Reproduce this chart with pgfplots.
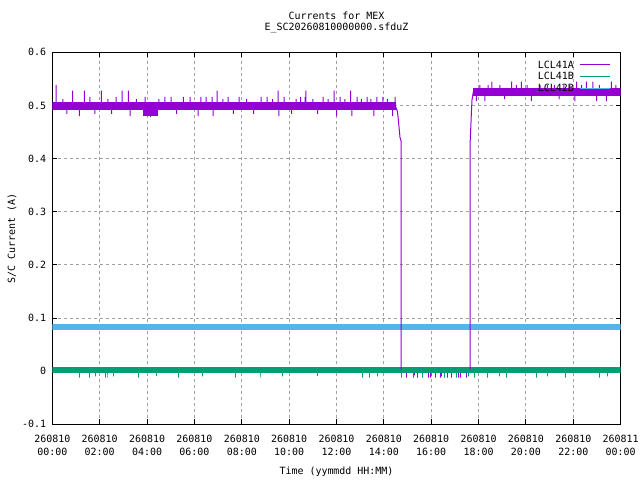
\documentclass[border=0pt]{standalone}
\usepackage{pgfplots}
\pgfplotsset{compat=1.18}
\usepackage{fontspec}
\setmainfont{DejaVu Sans Mono}
\definecolor{lclA}{HTML}{9400D3}
\definecolor{lclB}{HTML}{009E73}
\definecolor{lclC}{HTML}{56B4E9}
\definecolor{gridc}{HTML}{A0A0A0}
\begin{document}
\begin{tikzpicture}
\path[use as bounding box] (-52.3bp,-55.7bp) rectangle (587.7bp,424.3bp);
\begin{axis}[
  at={(0,0)}, anchor=south west,
  scale only axis, width=568.4bp, height=372bp,
  xmin=0, xmax=24, ymin=-0.1, ymax=0.6,
  axis line style={black, line width=1bp},
  tick align=inside, major tick length=5bp,
  tick style={black, line width=1bp},
  xtick={0,2,4,6,8,10,12,14,16,18,20,22,24},
  xticklabels={{260810\\00:00},{260810\\02:00},{260810\\04:00},{260810\\06:00},{260810\\08:00},{260810\\10:00},{260810\\12:00},{260810\\14:00},{260810\\16:00},{260810\\18:00},{260810\\20:00},{260810\\22:00},{260811\\00:00}},
  ytick={-0.1,0,0.1,0.2,0.3,0.4,0.5,0.6},
  yticklabels={-0.1,0,0.1,0.2,0.3,0.4,0.5,0.6},
  x tick label style={font=\fontsize{10}{13.5}\selectfont, align=center, inner sep=0pt, anchor=north, yshift=-10.5bp},
  y tick label style={font=\fontsize{10}{12}\selectfont, inner sep=0pt, anchor=east, xshift=-6bp},
  grid=major,
  major grid style={gridc, line width=1bp, dash pattern=on 3bp off 3bp},
  title={Currents for MEX\\E\_SC20260810000000.sfduZ},
  title style={at={(axis description cs:0.5,1)}, anchor=south, align=center, inner sep=0pt, yshift=13bp, font=\fontsize{10}{11.7}\selectfont},
  xlabel={Time (yymmdd HH:MM)},
  xlabel style={at={(axis description cs:0.5,0)}, anchor=center, yshift=-47.4bp, inner sep=0pt, font=\fontsize{10}{12}\selectfont},
  ylabel={S/C Current (A)},
  ylabel style={at={(axis description cs:-0.0709,0.5)}, anchor=center, inner sep=0pt, font=\fontsize{10}{12}\selectfont},
]

% LCL41A during outage (drawn under the other series)
\addplot[lclA, line width=1bp, forget plot] coordinates {
(14.73,0.003) (14.96,0.003) (14.96,-0.012) (14.96,0.003)
(15.25,0.003) (15.25,-0.012) (15.25,0.003)
(15.30,0.003) (15.30,-0.008) (15.30,0.003)
(15.44,0.003) (15.44,-0.012) (15.44,0.003)
(15.90,0.003) (15.90,-0.012) (15.90,0.003)
(15.95,0.003) (15.95,-0.012) (15.95,0.003)
(16.20,0.003) (16.20,-0.012) (16.20,0.003)
(16.39,0.003) (16.39,-0.012) (16.39,0.003)
(16.44,0.003) (16.44,-0.010) (16.44,0.003)
(16.70,0.003) (16.70,-0.012) (16.70,0.003)
(16.86,0.003) (16.86,-0.012) (16.86,0.003)
(17.17,0.003) (17.17,-0.012) (17.17,0.003)
(17.22,0.003) (17.22,-0.012) (17.22,0.003)
(17.49,0.003) (17.49,-0.012) (17.49,0.003)
(17.64,0.003)
};

% LCL41B band and dips
\addplot[lclB, line width=6bp, forget plot] coordinates {(0,0.003) (24,0.003)};
\addplot[lclB, line width=1bp, forget plot] coordinates {
(0.5,0.003)
(1.14,0.003) (1.14,-0.012) (1.14,0.003)
(1.56,0.003) (1.56,-0.012) (1.56,0.003)
(1.81,0.003) (1.81,-0.010) (1.81,0.003)
(2.24,0.003) (2.24,-0.012) (2.24,0.003)
(2.31,0.003) (2.31,-0.012) (2.31,0.003)
(2.57,0.003) (2.57,-0.010) (2.57,0.003)
(3.63,0.003) (3.63,-0.012) (3.63,0.003)
(4.40,0.003) (4.40,-0.009) (4.40,0.003)
(5.31,0.003) (5.31,-0.012) (5.31,0.003)
(6.33,0.003) (6.33,-0.010) (6.33,0.003)
(7.72,0.003) (7.72,-0.012) (7.72,0.003)
(8.77,0.003) (8.77,-0.012) (8.77,0.003)
(9.74,0.003) (9.74,-0.010) (9.74,0.003)
(11.20,0.003) (11.20,-0.009) (11.20,0.003)
(13.08,0.003) (13.08,-0.012) (13.08,0.003)
(13.41,0.003) (13.41,-0.012) (13.41,0.003)
(13.75,0.003) (13.75,-0.010) (13.75,0.003)
(14.75,0.003) (14.75,-0.012) (14.75,0.003)
(15.23,0.003) (15.23,-0.012) (15.23,0.003)
(15.65,0.003) (15.65,-0.012) (15.65,0.003)
(16.03,0.003) (16.03,-0.010) (16.03,0.003)
(16.58,0.003) (16.58,-0.012) (16.58,0.003)
(17.08,0.003) (17.08,-0.012) (17.08,0.003)
(17.56,0.003) (17.56,-0.010) (17.56,0.003)
(17.84,0.003) (17.84,-0.012) (17.84,0.003)
(18.39,0.003) (18.39,-0.012) (18.39,0.003)
(18.89,0.003) (18.89,-0.010) (18.89,0.003)
(19.18,0.003) (19.18,-0.012) (19.18,0.003)
(20.46,0.003) (20.46,-0.012) (20.46,0.003)
(20.92,0.003) (20.92,-0.010) (20.92,0.003)
(21.68,0.003) (21.68,-0.012) (21.68,0.003)
(23.12,0.003) (23.12,-0.012) (23.12,0.003)
(23.45,0.003) (23.45,-0.010) (23.45,0.003)
(23.8,0.003)
};

% LCL42B band
\addplot[lclC, line width=6bp, forget plot] coordinates {(0,0.083) (24,0.083)};

% LCL41A main band before outage
\addplot[lclA, line width=8bp, forget plot] coordinates {
(0,0.4985) (3.98,0.4985) (3.98,0.487) (4.30,0.487) (4.30,0.4985) (14.50,0.4985)
};
% LCL41A spikes before outage
\addplot[lclA, line width=1bp, forget plot] coordinates {
(0.05,0.498)
(0.16,0.498) (0.16,0.538) (0.16,0.498)
(0.45,0.498) (0.45,0.512) (0.45,0.498)
(0.62,0.498) (0.62,0.484) (0.62,0.498)
(0.86,0.498) (0.86,0.528) (0.86,0.498)
(1.14,0.498) (1.14,0.480) (1.14,0.498)
(1.35,0.498) (1.35,0.528) (1.35,0.498)
(1.59,0.498) (1.59,0.516) (1.59,0.498)
(1.80,0.498) (1.80,0.484) (1.80,0.498)
(2.07,0.498) (2.07,0.528) (2.07,0.498)
(2.35,0.498) (2.35,0.512) (2.35,0.498)
(2.50,0.498) (2.50,0.484) (2.50,0.498)
(2.70,0.498) (2.70,0.516) (2.70,0.498)
(2.95,0.498) (2.95,0.528) (2.95,0.498)
(3.21,0.498) (3.21,0.528) (3.21,0.498)
(3.29,0.498) (3.29,0.480) (3.29,0.498)
(3.55,0.498) (3.55,0.512) (3.55,0.498)
(3.92,0.498) (3.92,0.516) (3.92,0.498)
(4.15,0.498) (4.15,0.478) (4.15,0.498)
(4.50,0.498) (4.50,0.512) (4.50,0.498)
(4.75,0.498) (4.75,0.516) (4.75,0.498)
(5.02,0.498) (5.02,0.516) (5.02,0.498)
(5.25,0.498) (5.25,0.484) (5.25,0.498)
(5.53,0.498) (5.53,0.516) (5.53,0.498)
(5.82,0.498) (5.82,0.516) (5.82,0.498)
(6.16,0.498) (6.16,0.480) (6.16,0.498)
(6.27,0.498) (6.27,0.516) (6.27,0.498)
(6.50,0.498) (6.50,0.516) (6.50,0.498)
(6.75,0.498) (6.75,0.516) (6.75,0.498)
(6.79,0.498) (6.79,0.480) (6.79,0.498)
(6.96,0.498) (6.96,0.528) (6.96,0.498)
(7.20,0.498) (7.20,0.512) (7.20,0.498)
(7.42,0.498) (7.42,0.516) (7.42,0.498)
(7.65,0.498) (7.65,0.484) (7.65,0.498)
(7.89,0.498) (7.89,0.516) (7.89,0.498)
(8.20,0.498) (8.20,0.512) (8.20,0.498)
(8.50,0.498) (8.50,0.484) (8.50,0.498)
(8.82,0.498) (8.82,0.516) (8.82,0.498)
(9.07,0.498) (9.07,0.516) (9.07,0.498)
(9.30,0.498) (9.30,0.512) (9.30,0.498)
(9.53,0.498) (9.53,0.528) (9.53,0.498)
(9.57,0.498) (9.57,0.480) (9.57,0.498)
(9.79,0.498) (9.79,0.516) (9.79,0.498)
(10.10,0.498) (10.10,0.484) (10.10,0.498)
(10.30,0.498) (10.30,0.512) (10.30,0.498)
(10.49,0.498) (10.49,0.516) (10.49,0.498)
(10.67,0.498) (10.67,0.516) (10.67,0.498)
(10.71,0.498) (10.71,0.528) (10.71,0.498)
(11.00,0.498) (11.00,0.512) (11.00,0.498)
(11.20,0.498) (11.20,0.484) (11.20,0.498)
(11.43,0.498) (11.43,0.516) (11.43,0.498)
(11.65,0.498) (11.65,0.512) (11.65,0.498)
(11.90,0.498) (11.90,0.528) (11.90,0.498)
(12.01,0.498) (12.01,0.480) (12.01,0.498)
(12.15,0.498) (12.15,0.516) (12.15,0.498)
(12.35,0.498) (12.35,0.512) (12.35,0.498)
(12.60,0.498) (12.60,0.528) (12.60,0.498)
(12.65,0.498) (12.65,0.480) (12.65,0.498)
(12.87,0.498) (12.87,0.516) (12.87,0.498)
(13.05,0.498) (13.05,0.512) (13.05,0.498)
(13.29,0.498) (13.29,0.516) (13.29,0.498)
(13.45,0.498) (13.45,0.512) (13.45,0.498)
(13.58,0.498) (13.58,0.480) (13.58,0.498)
(13.70,0.498) (13.70,0.516) (13.70,0.498)
(13.96,0.498) (13.96,0.516) (13.96,0.498)
(14.15,0.498) (14.15,0.512) (14.15,0.498)
(14.37,0.498) (14.37,0.480) (14.37,0.498)
(14.47,0.498) (14.47,0.516) (14.47,0.498)
(14.51,0.496) (14.57,0.489) (14.60,0.478) (14.64,0.459) (14.68,0.440) (14.73,0.432) (14.73,0.003)
};
% LCL41A recovery and spikes after outage
\addplot[lclA, line width=1bp, forget plot] coordinates {
(17.64,0.003) (17.64,0.427) (17.69,0.480) (17.72,0.510) (17.78,0.526)
(17.91,0.526) (17.91,0.508) (17.91,0.526)
(18.05,0.526) (18.05,0.538) (18.05,0.526)
(18.26,0.526) (18.26,0.508) (18.26,0.526)
(18.40,0.526) (18.40,0.538) (18.40,0.526)
(18.56,0.526) (18.56,0.545) (18.56,0.526)
(18.90,0.526) (18.90,0.538) (18.90,0.526)
(19.10,0.526) (19.10,0.512) (19.10,0.526)
(19.39,0.526) (19.39,0.545) (19.39,0.526)
(19.60,0.526) (19.60,0.538) (19.60,0.526)
(19.81,0.526) (19.81,0.545) (19.81,0.526)
(20.05,0.526) (20.05,0.538) (20.05,0.526)
(20.23,0.526) (20.23,0.508) (20.23,0.526)
(20.60,0.526) (20.60,0.538) (20.60,0.526)
(20.90,0.526) (20.90,0.538) (20.90,0.526)
(21.20,0.526) (21.20,0.538) (21.20,0.526)
(21.40,0.526) (21.40,0.512) (21.40,0.526)
(21.60,0.526) (21.60,0.538) (21.60,0.526)
(21.85,0.526) (21.85,0.538) (21.85,0.526)
(22.06,0.526) (22.06,0.508) (22.06,0.526)
(22.14,0.526) (22.14,0.545) (22.14,0.526)
(22.35,0.526) (22.35,0.538) (22.35,0.526)
(22.55,0.526) (22.55,0.545) (22.55,0.526)
(22.82,0.526) (22.82,0.545) (22.82,0.526)
(22.98,0.526) (22.98,0.508) (22.98,0.526)
(23.10,0.526) (23.10,0.538) (23.10,0.526)
(23.40,0.526) (23.40,0.508) (23.40,0.526)
(23.61,0.526) (23.61,0.545) (23.61,0.526)
(23.80,0.526) (23.80,0.538) (23.80,0.526)
(23.95,0.526)
};
\addplot[lclA, line width=8bp, forget plot] coordinates {(17.78,0.526) (24,0.526)};

% key
\begin{scope}[font=\fontsize{10}{12}\selectfont]
\node[anchor=east, inner sep=0pt] at (axis description cs:0.9178,0.9659) {LCL41A};
\node[anchor=east, inner sep=0pt] at (axis description cs:0.9178,0.9355) {LCL41B};
\node[anchor=east, inner sep=0pt] at (axis description cs:0.9178,0.9032) {LCL42B};
\draw[lclA, line width=1bp] (axis description cs:0.9282,0.9659) -- (axis description cs:0.9812,0.9659);
\draw[lclB, line width=1bp] (axis description cs:0.9282,0.9355) -- (axis description cs:0.9812,0.9355);
\draw[lclC, line width=1bp] (axis description cs:0.9282,0.9032) -- (axis description cs:0.9812,0.9032);
\end{scope}
\end{axis}
\end{tikzpicture}
\end{document}
